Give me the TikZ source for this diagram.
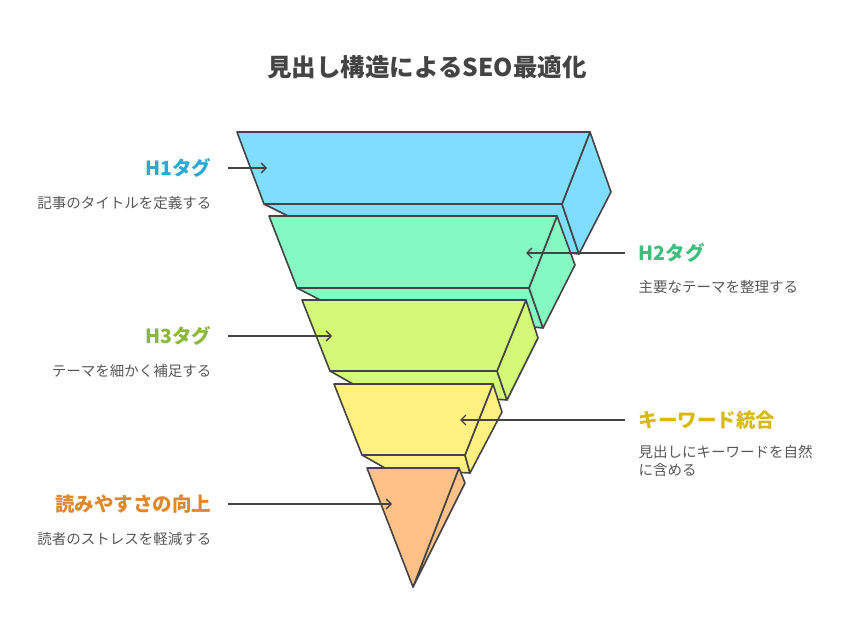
\documentclass[tikz,border=0pt]{standalone}
\usepackage{fontspec}
\setmainfont{Noto Sans CJK JP}
\usetikzlibrary{arrows.meta}
\definecolor{edge}{HTML}{444444}
\definecolor{lblue}{HTML}{7FDDFF}
\definecolor{lgreen}{HTML}{84FAC2}
\definecolor{llime}{HTML}{D3F977}
\definecolor{lyellow}{HTML}{FFF080}
\definecolor{lorange}{HTML}{FFC187}
\definecolor{tblue}{HTML}{2BA8D6}
\definecolor{tgreen}{HTML}{3CBF7C}
\definecolor{tlime}{HTML}{8CB83A}
\definecolor{tyellow}{HTML}{D8B90F}
\definecolor{torange}{HTML}{E0872A}
\tikzset{
  face/.style={draw=edge,line width=1.6pt,line join=round},
  pointer/.style={draw=edge,line width=1.3pt,-{Straight Barb[length=5pt,width=10pt]}},
  head/.style={font=\bfseries\fontsize{19.5}{22}\selectfont},
  desc/.style={font=\fontsize{14.5}{18}\selectfont,text=edge!90!white,align=left},
}
\begin{document}
\begin{tikzpicture}[x=1pt,y=-1pt]
\useasboundingbox (0,0) rectangle (852,636);
\node[font=\bfseries\fontsize{24.5}{28}\selectfont,text=edge] (title) at (427,67) {見出し構造によるSEO最適化};
% layer 1
\draw[face,fill=lblue] (264,204) -- (300,222) -- (579,254) -- (562,204) -- cycle; %bottom
\draw[face,fill=lblue] (590,132) -- (611,192) -- (579,254) -- (562,204) -- cycle; %side
\draw[face,fill=lblue] (237,132) -- (590,132) -- (562,204) -- (264,204) -- cycle; %front
% layer 2
\draw[face,fill=lgreen] (297,288) -- (330,305) -- (543,328) -- (529,288) -- cycle; %bottom
\draw[face,fill=lgreen] (557,216) -- (575,265) -- (543,328) -- (529,288) -- cycle; %side
\draw[face,fill=lgreen] (269,216) -- (557,216) -- (529,288) -- (297,288) -- cycle; %front
% layer 3
\draw[face,fill=llime] (330,371) -- (360,388) -- (507,400) -- (497,371) -- cycle; %bottom
\draw[face,fill=llime] (526,300) -- (538,338) -- (507,400) -- (497,371) -- cycle; %side
\draw[face,fill=llime] (302,300) -- (526,300) -- (497,371) -- (330,371) -- cycle; %front
% layer 4
\draw[face,fill=lyellow] (362,455) -- (385,468) -- (470,473) -- (465,455) -- cycle; %bottom
\draw[face,fill=lyellow] (493,384) -- (502,412) -- (470,473) -- (465,455) -- cycle; %side
\draw[face,fill=lyellow] (334,384) -- (493,384) -- (465,455) -- (362,455) -- cycle; %front
% layer 5
\draw[face,fill=lorange] (459,468) -- (465,483) -- (413,587) -- cycle; %side
\draw[face,fill=lorange] (367,468) -- (459,468) -- (413,587) -- cycle; %front
% labels
\node[head,text=tblue,anchor=east] (h1) at (215,168) {H1タグ};
\node[desc,anchor=east] (h1d) at (215,203) {記事のタイトルを定義する};
\node[head,text=tgreen,anchor=west] (h2) at (635,253) {H2タグ};
\node[desc,anchor=west] (h2d) at (635,287) {主要なテーマを整理する};
\node[head,text=tlime,anchor=east] (h3) at (215,336) {H3タグ};
\node[desc,anchor=east] (h3d) at (215,371) {テーマを細かく補足する};
\node[head,text=tyellow,anchor=west] (kw) at (635,420) {キーワード統合};
\node[desc,anchor=west] (kwd) at (635,461) {見出しにキーワードを自然\\に含める};
\node[head,text=torange,anchor=east] (rd) at (215,504) {読みやすさの向上};
\node[desc,anchor=east] (rdd) at (215,539) {読者のストレスを軽減する};
% arrows
\coordinate (a1) at (228,168); \coordinate (b1) at (267,168);
\coordinate (a2) at (625,253); \coordinate (b2) at (526,253);
\coordinate (a3) at (228,336); \coordinate (b3) at (332,336);
\coordinate (a4) at (625,420); \coordinate (b4) at (460,420);
\coordinate (a5) at (228,504); \coordinate (b5) at (392,504);
\foreach \i in {1,...,5} \draw[pointer] (a\i) -- (b\i);
\end{tikzpicture}
\end{document}
